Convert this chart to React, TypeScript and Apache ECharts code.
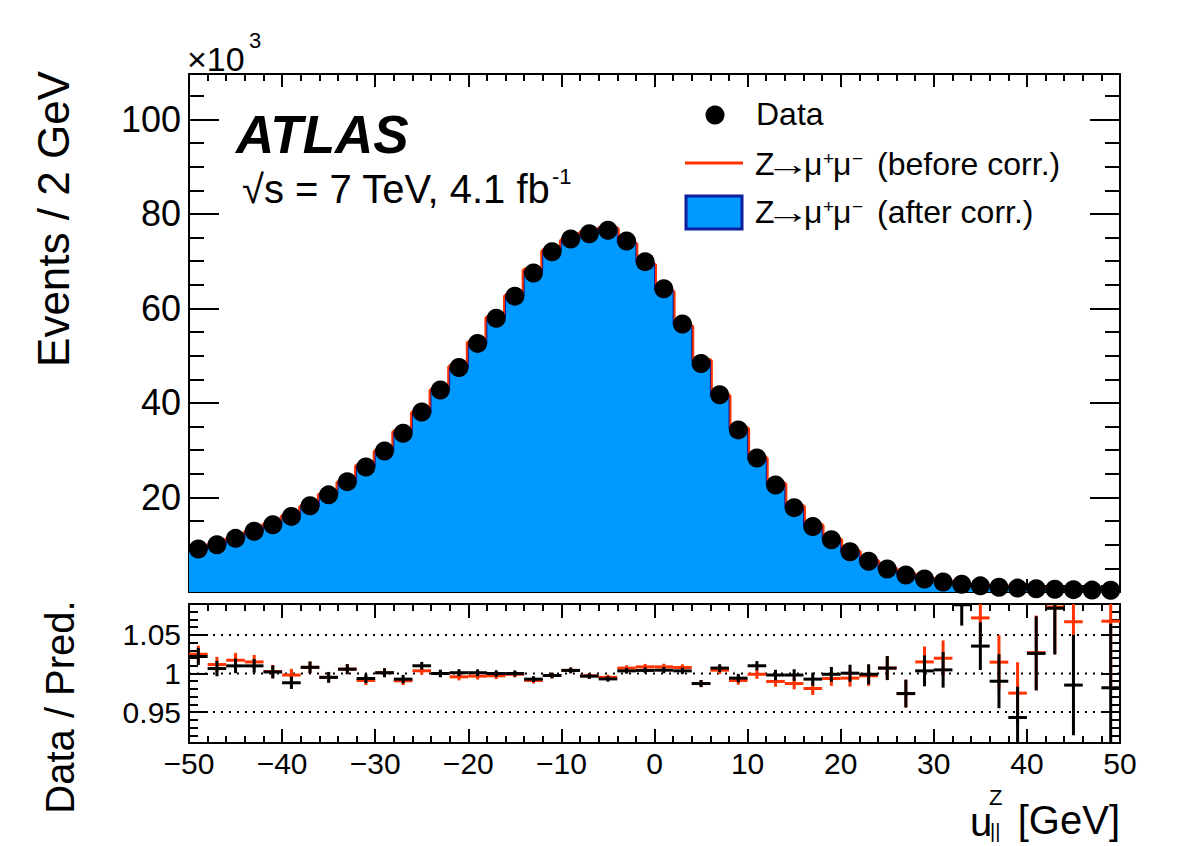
import React, { useEffect, useRef } from "react";
import * as echarts from "echarts";

// Bin centres of u_par^Z in GeV (2 GeV bins spanning -50 .. 50)
const binCenters = [
  -49, -47, -45, -43, -41, -39, -37, -35, -33, -31,
  -29, -27, -25, -23, -21, -19, -17, -15, -13, -11,
  -9, -7, -5, -3, -1, 1, 3, 5, 7, 9,
  11, 13, 15, 17, 19, 21, 23, 25, 27, 29,
  31, 33, 35, 37, 39, 41, 43, 45, 47, 49,
];
const binWidth = 2;

// Observed events per bin (x10^3)
const dataEvents = [
  9.1, 10.0, 11.35, 12.85, 14.25, 16.0, 18.25, 20.55, 23.35, 26.45,
  29.85, 33.6, 38.1, 42.75, 47.5, 52.6, 57.9, 62.6, 67.5, 72.0,
  74.7, 75.8, 76.55, 74.25, 69.9, 64.15, 56.7, 48.35, 41.75, 34.3,
  28.35, 22.65, 17.85, 13.85, 11.05, 8.5, 6.5, 4.85, 3.6, 2.75,
  2.1, 1.65, 1.3, 1.0, 0.82, 0.7, 0.6, 0.5, 0.4, 0.35,
];

// Data / prediction, simulation after the recoil correction
const ratioAfter = [
  1.022, 1.0064, 1.0099, 1.0099, 1.002, 0.988, 1.008, 0.995, 1.0056, 0.9935,
  1.001, 0.9927, 1.01, 1.0, 1.001, 1.001, 1.0, 1.0, 0.9927, 0.9974,
  1.004, 0.9966, 0.993, 1.0034, 1.004, 1.0043, 1.0034, 0.987, 1.007, 0.994,
  1.01, 0.998, 0.998, 0.9927, 0.999, 1.0004, 0.999, 1.007, 0.974, 1.0034,
  1.0047, 1.089, 1.0355, 0.99, 0.943, 1.026, 1.0845, 0.985, 0.83, 0.9815,
];

// Data / prediction, simulation before the recoil correction
const ratioBefore = [
  1.025, 1.0116, 1.0172, 1.015, 1.0026, 0.998, 1.008, 0.995, 1.0056, 0.991,
  1.001, 0.9905, 1.0035, 1.0, 0.9957, 0.9966, 0.997, 0.999, 0.991, 0.9974,
  1.004, 0.997, 0.995, 1.007, 1.0086, 1.0086, 1.0078, 0.987, 1.0043, 0.991,
  0.999, 0.9897, 0.987, 0.9806, 0.9935, 0.994, 0.997, 1.007, 0.974, 1.015,
  1.0198, 1.125, 1.072, 1.0147, 0.9746, 1.027, 1.086, 1.067, 0.83, 1.0677,
];

// Statistical uncertainty on the ratio
const ratioErr = [
  0.011, 0.01, 0.0095, 0.009, 0.0085, 0.008, 0.0075, 0.007, 0.0065, 0.006,
  0.0058, 0.0055, 0.005, 0.0048, 0.0046, 0.0044, 0.0042, 0.004, 0.0039, 0.0037,
  0.0037, 0.0036, 0.0036, 0.0037, 0.0038, 0.004, 0.0042, 0.0046, 0.005, 0.0055,
  0.006, 0.0068, 0.0075, 0.0085, 0.0095, 0.011, 0.013, 0.0155, 0.018, 0.02,
  0.023, 0.027, 0.031, 0.035, 0.04, 0.048, 0.06, 0.065, 0.07, 0.083,
];

const xTickValues = [-50, -40, -30, -20, -10, 0, 10, 20, 30, 40, 50];
const xTickLabels = ["\u221250", "\u221240", "\u221230", "\u221220", "\u221210", "0", "10", "20", "30", "40", "50"];
const eventsTickValues = [20, 40, 60, 80, 100];
const eventsTickLabels = ["20", "40", "60", "80", "100"];
const ratioTickValues = [0.95, 1, 1.05];
const ratioTickLabels = ["0.95", "1", "1.05"];

const FONT = '"Liberation Sans", Arial, Helvetica, sans-serif';
const BLUE = "#0099ff";
const DARK_BLUE = "#0f1e9c";
const RED = "#ff3300";

const predAfter = dataEvents.map((d, i) => d / ratioAfter[i]);
const predBefore = dataEvents.map((d, i) => d / ratioBefore[i]);

function stepOutline(values: number[]) {
  const pts: number[][] = [];
  binCenters.forEach((c, i) => {
    pts.push([c - binWidth / 2, values[i]]);
    pts.push([c + binWidth / 2, values[i]]);
  });
  return pts;
}

function pickLabel(values: number[], labels: string[]) {
  return (v: number) => {
    for (let i = 0; i < values.length; i++) {
      if (Math.abs(v - values[i]) < 1e-6) return labels[i];
    }
    return "";
  };
}

const black = { color: "#000", width: 2 };

function xAxis(gridIndex: number, position: string, major: number, minor: number, labels: boolean) {
  return {
    type: "value",
    gridIndex,
    position,
    min: -50,
    max: 50,
    interval: 10,
    axisLine: { show: true, onZero: false, lineStyle: black },
    axisTick: { show: true, inside: true, length: major, lineStyle: black },
    minorTick: { show: true, splitNumber: 5, length: minor, lineStyle: black },
    splitLine: { show: false },
    minorSplitLine: { show: false },
    axisLabel: labels
      ? {
          show: true,
          margin: 5,
          fontSize: 30,
          fontFamily: FONT,
          color: "#000",
          showMinLabel: true,
          showMaxLabel: true,
          hideOverlap: false,
          formatter: pickLabel(xTickValues, xTickLabels),
        }
      : { show: false },
  };
}

function text(
  str: string,
  x: number,
  y: number,
  size: number,
  extra: Record<string, unknown> = {},
  el: Record<string, unknown> = {}
) {
  return {
    type: "text",
    x,
    y,
    silent: true,
    ...el,
    style: {
      text: str,
      fontSize: size,
      fontFamily: FONT,
      fill: "#000",
      textAlign: "left",
      align: "left",
      textVerticalAlign: "middle",
      verticalAlign: "middle",
      ...extra,
    },
  };
}

// One legend caption "Z -> mu+ mu- (...)" centred on row y
function zmumuCaption(y: number, suffix: string) {
  return [
    text("Z", 755, y, 32),
    text("\u2192", 765, y, 32, {}, { scaleX: 1.4 }),
    text("\u03bc", 804, y, 32),
    text("+", 823, y - 6, 19),
    text("\u03bc", 833, y, 32),
    text("\u2212", 852, y - 6, 19),
    text(suffix, 877, y, 32),
  ];
}

function crossSeries(values: number[], color: string, z: number) {
  return {
    type: "custom",
    xAxisIndex: 2,
    yAxisIndex: 2,
    clip: true,
    z,
    silent: true,
    data: binCenters.map((c, i) => [c, values[i], ratioErr[i]]),
    encode: { x: 0, y: 1 },
    renderItem: (_params: any, api: any) => {
      const c = api.value(0);
      const v = api.value(1);
      const e = api.value(2);
      const l = api.coord([c - binWidth / 2, v]);
      const r = api.coord([c + binWidth / 2, v]);
      const t = api.coord([c, v + e]);
      const b = api.coord([c, v - e]);
      return {
        type: "group",
        children: [
          { type: "line", shape: { x1: l[0], y1: l[1], x2: r[0], y2: r[1] }, style: { stroke: color, lineWidth: 3 } },
          { type: "line", shape: { x1: t[0], y1: t[1], x2: b[0], y2: b[1] }, style: { stroke: color, lineWidth: 3 } },
        ],
      };
    },
  };
}

export default function App() {
  const ref = useRef<HTMLDivElement>(null);

  useEffect(() => {
    if (!ref.current) return;
    const chart = echarts.init(ref.current, undefined, { renderer: "svg" });

    const option: any = {
      animation: false,
      backgroundColor: "#fff",
      grid: [
        { left: 189, top: 74, width: 931, height: 518, outerBoundsMode: "none" },
        { left: 189, top: 604, width: 931, height: 139, outerBoundsMode: "none" },
      ],
      xAxis: [
        xAxis(0, "bottom", 13, 7, false),
        xAxis(0, "top", 13, 7, false),
        xAxis(1, "bottom", 14, 7, true),
        xAxis(1, "top", 14, 7, false),
      ],
      yAxis: [
        {
          type: "value",
          gridIndex: 0,
          position: "left",
          min: 0,
          max: 109.6,
          interval: 20,
          axisLine: { show: true, onZero: false, lineStyle: black },
          axisTick: { show: true, inside: true, length: 30, lineStyle: black },
          minorTick: { show: true, splitNumber: 4, length: 15, lineStyle: black },
          splitLine: { show: false },
          axisLabel: {
            show: true,
            margin: 8,
            fontSize: 36,
            fontFamily: FONT,
            color: "#000",
            formatter: pickLabel(eventsTickValues, eventsTickLabels),
          },
        },
        {
          type: "value",
          gridIndex: 0,
          position: "right",
          min: 0,
          max: 109.6,
          interval: 20,
          axisLine: { show: true, onZero: false, lineStyle: black },
          axisTick: { show: true, inside: true, length: 30, lineStyle: black },
          minorTick: { show: true, splitNumber: 4, length: 15, lineStyle: black },
          splitLine: { show: false },
          axisLabel: { show: false },
        },
        {
          type: "value",
          gridIndex: 1,
          position: "left",
          min: 0.91,
          max: 1.09,
          interval: 0.01,
          axisLine: { show: true, onZero: false, lineStyle: black },
          axisTick: { show: true, inside: true, length: 9, lineStyle: black },
          splitLine: { show: false },
          axisLabel: { show: false },
        },
        {
          type: "value",
          gridIndex: 1,
          position: "right",
          min: 0.91,
          max: 1.09,
          interval: 0.01,
          axisLine: { show: true, onZero: false, lineStyle: black },
          axisTick: { show: true, inside: true, length: 9, lineStyle: black },
          splitLine: { show: false },
          axisLabel: { show: false },
        },
        {
          type: "value",
          gridIndex: 1,
          position: "left",
          min: 0.91,
          max: 1.09,
          axisLine: { show: false, onZero: false },
          axisTick: { show: true, inside: true, length: 19, lineStyle: black, customValues: ratioTickValues },
          splitLine: { show: false },
          axisLabel: {
            show: true,
            margin: 8,
            fontSize: 30,
            fontFamily: FONT,
            color: "#000",
            customValues: ratioTickValues,
            formatter: pickLabel(ratioTickValues, ratioTickLabels),
          },
        },
        {
          type: "value",
          gridIndex: 1,
          position: "right",
          min: 0.91,
          max: 1.09,
          axisLine: { show: false, onZero: false },
          axisTick: { show: true, inside: true, length: 19, lineStyle: black, customValues: ratioTickValues },
          splitLine: { show: false },
          axisLabel: { show: false },
        },
      ],
      series: [
        {
          name: "before",
          type: "line",
          xAxisIndex: 0,
          yAxisIndex: 0,
          data: stepOutline(predBefore),
          symbol: "none",
          lineStyle: { color: RED, width: 5 },
          z: 2,
          silent: true,
        },
        {
          name: "after",
          type: "line",
          xAxisIndex: 0,
          yAxisIndex: 0,
          data: stepOutline(predAfter),
          symbol: "none",
          lineStyle: { color: DARK_BLUE, width: 1 },
          areaStyle: { color: BLUE, opacity: 1, origin: "start" },
          z: 3,
          silent: true,
        },
        {
          name: "data",
          type: "scatter",
          xAxisIndex: 0,
          yAxisIndex: 0,
          data: binCenters.map((c, i) => [c, dataEvents[i]]),
          symbol: "circle",
          symbolSize: 19,
          itemStyle: { color: "#000", opacity: 1 },
          z: 4,
          silent: true,
        },
        ...ratioTickValues.map((v) => ({
          type: "line",
          xAxisIndex: 2,
          yAxisIndex: 2,
          data: [
            [-50, v],
            [50, v],
          ],
          symbol: "none",
          lineStyle: { color: "#000", width: 2, type: [2, 6] },
          z: 1,
          silent: true,
        })),
        crossSeries(ratioBefore, RED, 3),
        crossSeries(ratioAfter, "#000", 4),
      ],
      graphic: [
        // x10^3 multiplier
        text("\u00d710", 187, 59, 34),
        text("3", 249, 40, 22),
        // experiment label
        text("ATLAS", 236, 134, 53, { fontWeight: "bold", fontStyle: "italic" }),
        text("\u221as = 7 TeV, 4.1 fb", 242, 189, 40),
        text("-1", 552, 176, 22),
        // legend
        { type: "circle", shape: { cx: 715, cy: 115, r: 9.5 }, style: { fill: "#000" }, silent: true },
        text("Data", 756, 114, 32),
        { type: "line", shape: { x1: 685, y1: 163, x2: 743, y2: 163 }, style: { stroke: RED, lineWidth: 3 }, silent: true },
        ...zmumuCaption(164, "(before corr.)"),
        {
          type: "rect",
          shape: { x: 686, y: 196, width: 56, height: 33 },
          style: { fill: BLUE, stroke: DARK_BLUE, lineWidth: 3 },
          silent: true,
        },
        ...zmumuCaption(212, "(after corr.)"),
        // axis titles
        text("Events / 2 GeV", 53, 219, 44, { textAlign: "center", align: "center" }, { rotation: Math.PI / 2 }),
        text("Data / Pred.", 60, 707, 40, { textAlign: "center", align: "center" }, { rotation: Math.PI / 2 }),
        text("u", 970, 822, 40),
        text("Z", 989, 797, 22),
        text("||", 990, 831, 20),
        text("[GeV]", 1120, 820, 40, { textAlign: "right", align: "right" }),
      ],
    };

    chart.setOption(option);
    return () => chart.dispose();
  }, []);

  return (
    <div
      ref={ref}
      style={{ position: "absolute", left: 0, top: 0, width: 1182, height: 846, background: "#fff" }}
    />
  );
}
